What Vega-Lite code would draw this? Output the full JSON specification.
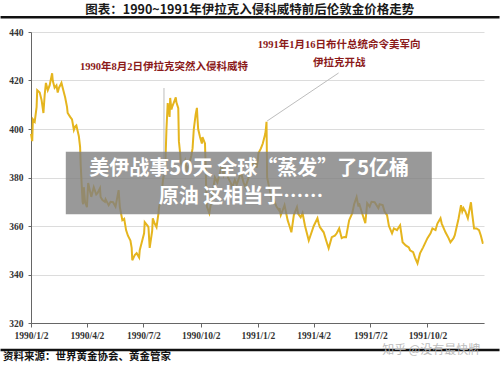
{
  "$schema": "https://vega.github.io/schema/vega-lite/v6.json",
  "width": 453,
  "height": 291,
  "autosize": {"type": "none"},
  "padding": {"left": 31, "top": 32, "right": 16, "bottom": 44},
  "background": "white",
  "config": {"view": {"stroke": null}, "font": "Noto Sans CJK SC"},
  "datasets": {
    "gold": [
      {"date": "1990-01-02", "price": 398}, {"date": "1990-01-04", "price": 395}, {"date": "1990-01-05", "price": 404},
      {"date": "1990-01-08", "price": 403}, {"date": "1990-01-11", "price": 409}, {"date": "1990-01-12", "price": 416},
      {"date": "1990-01-16", "price": 415}, {"date": "1990-01-19", "price": 412}, {"date": "1990-01-22", "price": 406.6},
      {"date": "1990-01-24", "price": 414}, {"date": "1990-01-26", "price": 419}, {"date": "1990-01-29", "price": 416},
      {"date": "1990-02-01", "price": 418}, {"date": "1990-02-05", "price": 423}, {"date": "1990-02-06", "price": 420},
      {"date": "1990-02-09", "price": 417}, {"date": "1990-02-12", "price": 418}, {"date": "1990-02-14", "price": 415},
      {"date": "1990-02-16", "price": 417}, {"date": "1990-02-20", "price": 419}, {"date": "1990-02-23", "price": 416},
      {"date": "1990-02-26", "price": 413}, {"date": "1990-03-01", "price": 409}, {"date": "1990-03-02", "price": 406.6},
      {"date": "1990-03-06", "price": 405}, {"date": "1990-03-09", "price": 404}, {"date": "1990-03-12", "price": 399.6},
      {"date": "1990-03-14", "price": 401}, {"date": "1990-03-16", "price": 401.5}, {"date": "1990-03-20", "price": 397},
      {"date": "1990-03-22", "price": 392.6}, {"date": "1990-03-23", "price": 385}, {"date": "1990-03-26", "price": 370},
      {"date": "1990-03-27", "price": 369}, {"date": "1990-03-28", "price": 376}, {"date": "1990-03-30", "price": 370},
      {"date": "1990-04-02", "price": 367.8}, {"date": "1990-04-04", "price": 377.7}, {"date": "1990-04-09", "price": 372},
      {"date": "1990-04-13", "price": 376}, {"date": "1990-04-17", "price": 373}, {"date": "1990-04-19", "price": 373.5},
      {"date": "1990-04-23", "price": 375.6}, {"date": "1990-04-24", "price": 372}, {"date": "1990-04-27", "price": 370.7},
      {"date": "1990-05-01", "price": 370}, {"date": "1990-05-02", "price": 371}, {"date": "1990-05-07", "price": 368.6},
      {"date": "1990-05-10", "price": 370}, {"date": "1990-05-14", "price": 369.8}, {"date": "1990-05-18", "price": 368},
      {"date": "1990-05-21", "price": 372}, {"date": "1990-05-23", "price": 374.8}, {"date": "1990-05-25", "price": 367.8},
      {"date": "1990-05-29", "price": 362.4}, {"date": "1990-06-01", "price": 363}, {"date": "1990-06-04", "price": 358.3},
      {"date": "1990-06-07", "price": 356}, {"date": "1990-06-11", "price": 354}, {"date": "1990-06-13", "price": 351},
      {"date": "1990-06-14", "price": 345.9}, {"date": "1990-06-18", "price": 348}, {"date": "1990-06-21", "price": 348.8},
      {"date": "1990-06-25", "price": 347}, {"date": "1990-06-26", "price": 350}, {"date": "1990-06-29", "price": 353},
      {"date": "1990-07-03", "price": 357}, {"date": "1990-07-04", "price": 361.6}, {"date": "1990-07-09", "price": 360},
      {"date": "1990-07-10", "price": 359.5}, {"date": "1990-07-12", "price": 351}, {"date": "1990-07-16", "price": 358},
      {"date": "1990-07-17", "price": 363.2}, {"date": "1990-07-20", "price": 361}, {"date": "1990-07-23", "price": 359.5},
      {"date": "1990-07-26", "price": 365}, {"date": "1990-07-27", "price": 367.8}, {"date": "1990-07-31", "price": 372},
      {"date": "1990-08-02", "price": 378}, {"date": "1990-08-03", "price": 380}, {"date": "1990-08-06", "price": 384},
      {"date": "1990-08-07", "price": 392}, {"date": "1990-08-08", "price": 400}, {"date": "1990-08-10", "price": 410.7},
      {"date": "1990-08-13", "price": 405}, {"date": "1990-08-14", "price": 412.8}, {"date": "1990-08-16", "price": 408},
      {"date": "1990-08-17", "price": 409}, {"date": "1990-08-20", "price": 411}, {"date": "1990-08-23", "price": 413},
      {"date": "1990-08-24", "price": 411}, {"date": "1990-08-27", "price": 408.6}, {"date": "1990-08-28", "price": 395},
      {"date": "1990-08-30", "price": 390}, {"date": "1990-08-31", "price": 386}, {"date": "1990-09-03", "price": 384},
      {"date": "1990-09-07", "price": 387}, {"date": "1990-09-10", "price": 383}, {"date": "1990-09-13", "price": 385},
      {"date": "1990-09-17", "price": 389}, {"date": "1990-09-19", "price": 392}, {"date": "1990-09-21", "price": 400},
      {"date": "1990-09-24", "price": 406}, {"date": "1990-09-26", "price": 408.7}, {"date": "1990-09-27", "price": 404},
      {"date": "1990-09-28", "price": 400}, {"date": "1990-10-01", "price": 396.7}, {"date": "1990-10-04", "price": 394},
      {"date": "1990-10-05", "price": 396.7}, {"date": "1990-10-09", "price": 394}, {"date": "1990-10-10", "price": 385},
      {"date": "1990-10-11", "price": 375}, {"date": "1990-10-12", "price": 368}, {"date": "1990-10-16", "price": 365.3},
      {"date": "1990-10-19", "price": 370}, {"date": "1990-10-22", "price": 375}, {"date": "1990-10-25", "price": 380},
      {"date": "1990-10-29", "price": 378}, {"date": "1990-11-02", "price": 382}, {"date": "1990-11-05", "price": 385},
      {"date": "1990-11-08", "price": 381}, {"date": "1990-11-12", "price": 384}, {"date": "1990-11-15", "price": 380},
      {"date": "1990-11-19", "price": 378}, {"date": "1990-11-22", "price": 376}, {"date": "1990-11-26", "price": 379},
      {"date": "1990-11-29", "price": 377}, {"date": "1990-12-03", "price": 380}, {"date": "1990-12-06", "price": 382},
      {"date": "1990-12-10", "price": 378}, {"date": "1990-12-13", "price": 376}, {"date": "1990-12-17", "price": 379},
      {"date": "1990-12-20", "price": 382}, {"date": "1990-12-24", "price": 385}, {"date": "1990-12-27", "price": 387},
      {"date": "1990-12-31", "price": 384}, {"date": "1991-01-02", "price": 387}, {"date": "1991-01-03", "price": 390},
      {"date": "1991-01-07", "price": 392}, {"date": "1991-01-10", "price": 394}, {"date": "1991-01-14", "price": 398},
      {"date": "1991-01-15", "price": 400}, {"date": "1991-01-16", "price": 403}, {"date": "1991-01-17", "price": 380},
      {"date": "1991-01-21", "price": 375}, {"date": "1991-01-24", "price": 371}, {"date": "1991-01-28", "price": 370.7},
      {"date": "1991-02-01", "price": 368}, {"date": "1991-02-05", "price": 366.5}, {"date": "1991-02-06", "price": 367.4},
      {"date": "1991-02-08", "price": 364.5}, {"date": "1991-02-11", "price": 366.5}, {"date": "1991-02-14", "price": 368.6},
      {"date": "1991-02-19", "price": 362.4}, {"date": "1991-02-22", "price": 360}, {"date": "1991-02-25", "price": 357.4},
      {"date": "1991-03-01", "price": 364.5}, {"date": "1991-03-06", "price": 367.8}, {"date": "1991-03-08", "price": 365},
      {"date": "1991-03-12", "price": 363.6}, {"date": "1991-03-15", "price": 365.3}, {"date": "1991-03-19", "price": 360},
      {"date": "1991-03-25", "price": 354}, {"date": "1991-03-29", "price": 357}, {"date": "1991-04-02", "price": 360},
      {"date": "1991-04-08", "price": 363.2}, {"date": "1991-04-10", "price": 361}, {"date": "1991-04-12", "price": 359.5},
      {"date": "1991-04-18", "price": 357.4}, {"date": "1991-04-22", "price": 354}, {"date": "1991-04-26", "price": 350.8},
      {"date": "1991-05-01", "price": 355.4}, {"date": "1991-05-06", "price": 356}, {"date": "1991-05-09", "price": 357},
      {"date": "1991-05-13", "price": 359}, {"date": "1991-05-17", "price": 355}, {"date": "1991-05-21", "price": 355.5},
      {"date": "1991-05-24", "price": 355.4}, {"date": "1991-05-29", "price": 362.4}, {"date": "1991-06-03", "price": 365.3},
      {"date": "1991-06-06", "price": 369}, {"date": "1991-06-10", "price": 371.9}, {"date": "1991-06-13", "price": 368},
      {"date": "1991-06-14", "price": 369.4}, {"date": "1991-06-18", "price": 366}, {"date": "1991-06-24", "price": 361.2},
      {"date": "1991-06-27", "price": 369.4}, {"date": "1991-07-01", "price": 368}, {"date": "1991-07-04", "price": 370},
      {"date": "1991-07-09", "price": 369.8}, {"date": "1991-07-15", "price": 367.4}, {"date": "1991-07-17", "price": 369},
      {"date": "1991-07-22", "price": 368.6}, {"date": "1991-07-25", "price": 366}, {"date": "1991-07-29", "price": 364.5},
      {"date": "1991-08-01", "price": 360}, {"date": "1991-08-06", "price": 357}, {"date": "1991-08-09", "price": 359},
      {"date": "1991-08-14", "price": 358.3}, {"date": "1991-08-19", "price": 360.3}, {"date": "1991-08-23", "price": 353.3},
      {"date": "1991-08-28", "price": 352}, {"date": "1991-09-02", "price": 351.2}, {"date": "1991-09-04", "price": 350},
      {"date": "1991-09-09", "price": 349.2}, {"date": "1991-09-12", "price": 347}, {"date": "1991-09-16", "price": 344.6},
      {"date": "1991-09-20", "price": 348.7}, {"date": "1991-09-25", "price": 351.2}, {"date": "1991-10-02", "price": 355},
      {"date": "1991-10-07", "price": 357}, {"date": "1991-10-10", "price": 359}, {"date": "1991-10-15", "price": 358.3},
      {"date": "1991-10-18", "price": 361}, {"date": "1991-10-23", "price": 363.2}, {"date": "1991-10-25", "price": 361},
      {"date": "1991-10-31", "price": 357.4}, {"date": "1991-11-05", "price": 355}, {"date": "1991-11-08", "price": 353.3},
      {"date": "1991-11-13", "price": 355}, {"date": "1991-11-15", "price": 356.2}, {"date": "1991-11-21", "price": 363},
      {"date": "1991-11-25", "price": 368.6}, {"date": "1991-11-27", "price": 366}, {"date": "1991-11-29", "price": 367.4},
      {"date": "1991-12-02", "price": 366}, {"date": "1991-12-06", "price": 363.2}, {"date": "1991-12-11", "price": 369.8},
      {"date": "1991-12-13", "price": 365}, {"date": "1991-12-16", "price": 359}, {"date": "1991-12-20", "price": 359},
      {"date": "1991-12-24", "price": 358.3}, {"date": "1991-12-27", "price": 356}, {"date": "1991-12-30", "price": 353},
      {"date": "1991-12-31", "price": 353}
    ],
    "leaders": [
      {"date": "1990-08-04", "date2": "1990-08-04", "price": 416.9, "price2": 380},
      {"date": "1991-01-17", "date2": "1991-05-12", "price": 403.3, "price2": 423.1}
    ],
    "notes": [
      {"date": "1990-08-04", "price": 425.7, "label": "1990年8月2日伊拉克突然入侵科威特"},
      {"date": "1991-05-13", "price": 434.6, "label": "1991年1月16日布什总统命令美军向"},
      {"date": "1991-05-13", "price": 427.3, "label": "伊拉克开战"}
    ],
    "banner": [
      {"date": "1990-02-27", "date2": "1991-10-09", "price": 390.6, "price2": 364.8}
    ],
    "bannerText": [
      {"date": "1990-12-19", "price": 383.5, "label": "美伊战事50天 全球“蒸发”了5亿桶"},
      {"date": "1990-12-06", "price": 372, "label": "原油 这相当于……"}
    ],
    "frameLines": [
      {"date": "1989-11-14", "date2": "1992-01-26", "price": 446.1},
      {"date": "1989-11-14", "date2": "1992-01-26", "price": 308.9}
    ],
    "heading": [
      {"date": "1990-12-20", "price": 449.1, "label": "图表：1990~1991年伊拉克入侵科威特前后伦敦金价格走势"}
    ],
    "footer": [
      {"date": "1989-11-18", "price": 305.8, "label": "资料来源：世界黄金协会、黄金管家"}
    ],
    "watermark": [
      {"date": "1991-10-08", "price": 309.0, "label": "知乎 @没有最快牌"}
    ]
  },
  "layer": [
    {
      "data": {"name": "gold"},
      "mark": {"type": "line", "color": "#E5B51E", "strokeWidth": 2},
      "encoding": {
        "x": {
          "field": "date", "type": "temporal",
          "scale": {"type": "utc", "domain": [{"year": 1990, "month": 1, "date": 2, "utc": true}, {"year": 1992, "month": 1, "date": 1, "utc": true}], "nice": false},
          "axis": {
            "title": null,
            "grid": false,
            "values": [
              {"year": 1990, "month": 1, "date": 2, "utc": true},
              {"year": 1990, "month": 4, "date": 2, "utc": true},
              {"year": 1990, "month": 7, "date": 2, "utc": true},
              {"year": 1990, "month": 10, "date": 2, "utc": true},
              {"year": 1991, "month": 1, "date": 2, "utc": true},
              {"year": 1991, "month": 4, "date": 2, "utc": true},
              {"year": 1991, "month": 7, "date": 2, "utc": true},
              {"year": 1991, "month": 10, "date": 2, "utc": true}
            ],
            "labelExpr": "utcFormat(datum.value, '%Y/%-m/%-d')",
            "labelFont": "Liberation Serif",
            "labelFontWeight": "bold",
            "labelFontSize": 9.5,
            "labelColor": "#333",
            "labelPadding": 3,
            "tickSize": 4,
            "tickColor": "#666",
            "domainColor": "#666",
            "labelFlush": false
          }
        },
        "y": {
          "field": "price", "type": "quantitative",
          "scale": {"domain": [320, 440], "nice": false, "zero": false},
          "axis": {
            "title": null,
            "values": [320, 340, 360, 380, 400, 420, 440],
            "grid": true,
            "gridColor": "#dcdcdc",
            "labelFont": "Liberation Serif",
            "labelFontWeight": "bold",
            "labelFontSize": 9.5,
            "labelColor": "#333",
            "labelPadding": 5,
            "tickSize": 3,
            "tickColor": "#666",
            "domainColor": "#666"
          }
        }
      }
    },
    {
      "data": {"name": "leaders"},
      "mark": {"type": "rule", "color": "#bdbdbd", "strokeWidth": 1},
      "encoding": {
        "x": {"field": "date", "type": "temporal"},
        "x2": {"field": "date2"},
        "y": {"field": "price", "type": "quantitative"},
        "y2": {"field": "price2"}
      }
    },
    {
      "data": {"name": "notes"},
      "mark": {"type": "text", "color": "#8B1A1A", "font": "Liberation Serif, Noto Sans CJK SC", "fontSize": 10.5, "fontWeight": "bold", "align": "center", "baseline": "middle"},
      "encoding": {
        "x": {"field": "date", "type": "temporal"},
        "y": {"field": "price", "type": "quantitative"},
        "text": {"field": "label"}
      }
    },
    {
      "data": {"name": "banner"},
      "mark": {"type": "rect", "color": "#7f7f7f", "opacity": 0.8},
      "encoding": {
        "x": {"field": "date", "type": "temporal"},
        "x2": {"field": "date2"},
        "y": {"field": "price", "type": "quantitative"},
        "y2": {"field": "price2"}
      }
    },
    {
      "data": {"name": "bannerText"},
      "mark": {"type": "text", "color": "white", "font": "Noto Sans CJK SC", "fontSize": 20, "fontWeight": "bold", "align": "center", "baseline": "middle"},
      "encoding": {
        "x": {"field": "date", "type": "temporal"},
        "y": {"field": "price", "type": "quantitative"},
        "text": {"field": "label"}
      }
    },
    {
      "data": {"name": "frameLines"},
      "mark": {"type": "rule", "color": "#111", "strokeWidth": 2.5},
      "encoding": {
        "x": {"field": "date", "type": "temporal"},
        "x2": {"field": "date2"},
        "y": {"field": "price", "type": "quantitative"}
      }
    },
    {
      "data": {"name": "heading"},
      "mark": {"type": "text", "color": "#1a1a1a", "font": "Noto Sans CJK SC", "fontSize": 12.5, "fontWeight": "bold", "align": "center", "baseline": "middle"},
      "encoding": {
        "x": {"field": "date", "type": "temporal"},
        "y": {"field": "price", "type": "quantitative"},
        "text": {"field": "label"}
      }
    },
    {
      "data": {"name": "footer"},
      "mark": {"type": "text", "color": "#111", "font": "Noto Sans CJK SC", "fontSize": 10.5, "fontWeight": "bold", "align": "left", "baseline": "middle"},
      "encoding": {
        "x": {"field": "date", "type": "temporal"},
        "y": {"field": "price", "type": "quantitative"},
        "text": {"field": "label"}
      }
    },
    {
      "data": {"name": "watermark"},
      "mark": {"type": "text", "color": "#b5b5b5", "font": "Noto Sans CJK SC", "fontSize": 12, "align": "center", "baseline": "middle", "opacity": 0.9},
      "encoding": {
        "x": {"field": "date", "type": "temporal"},
        "y": {"field": "price", "type": "quantitative"},
        "text": {"field": "label"}
      }
    }
  ]
}
